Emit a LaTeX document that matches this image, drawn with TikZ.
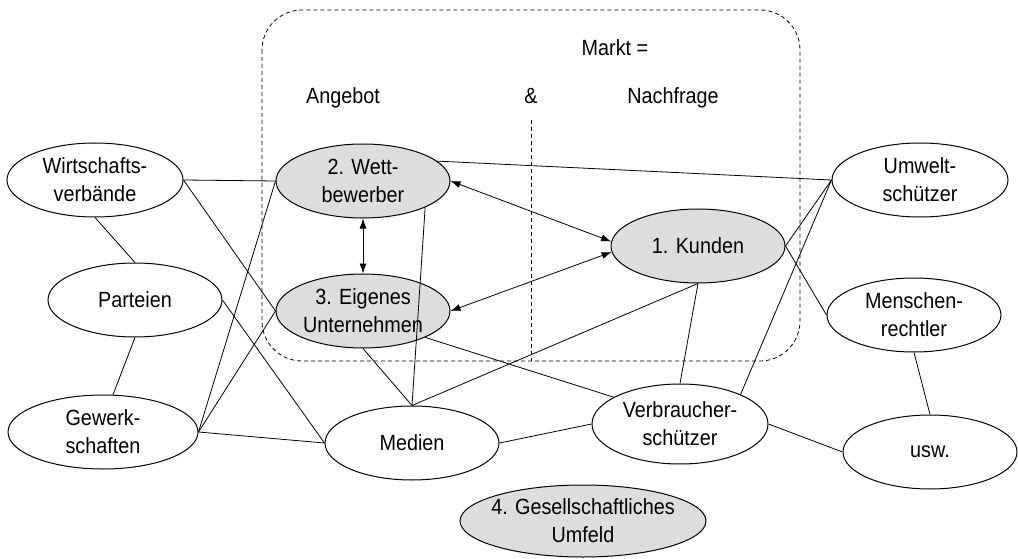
\documentclass[tikz,border=0pt]{standalone}
\usepackage{fontspec}
\setmainfont{Liberation Sans}[FakeStretch=0.9]
\usetikzlibrary{shapes.geometric,arrows.meta}
\definecolor{nodegray}{RGB}{221,221,223}
\begin{document}
\begin{tikzpicture}[x=1pt,y=-1pt,
  el/.style={ellipse,draw,line width=1pt,inner sep=0pt,minimum width=174pt,minimum height=74pt,align=center,font=\fontsize{22}{28}\selectfont},
  hi/.style={el,fill=nodegray},
  link/.style={line width=0.8pt},
  dbl/.style={link,{Latex[length=10pt,width=7pt]}-{Latex[length=10pt,width=7pt]}},
  lbl/.style={font=\fontsize{22}{28}\selectfont,inner sep=0pt,anchor=base},
  dashbox/.style={dash pattern=on 4pt off 3pt,line width=0.8pt}]
\useasboundingbox (0,0) rectangle (1018,559);

% market box
\draw[dashbox,rounded corners=40pt] (262,10) rectangle (800,361);
\coordinate (divtop) at (531,120);
\coordinate (divbot) at (531,361);
\draw[dashbox] (divtop) -- (divbot);
\node[lbl] (markt) at (615,56) {Markt =};
\node[lbl] (angebot) at (343,104) {Angebot};
\node[lbl] (und) at (531,104) {\&};
\node[lbl] (nachfrage) at (673,104) {Nachfrage};

% nodes
\node[el,minimum width=176pt] (wv) at (95,180) {Wirtschafts-\\verbände};
\node[el,minimum width=174pt] (pa) at (135,300) {Parteien};
\node[el,minimum width=190pt] (gw) at (103,432) {Gewerk-\\schaften};
\node[hi] (wb) at (363,181) {2. Wett-\\bewerber};
\node[hi] (eu) at (363,311) {3. Eigenes\\Unternehmen};
\node[hi] (ku) at (698,246) {1. Kunden};
\node[el,minimum width=176pt] (uw) at (920,180) {Umwelt-\\schützer};
\node[el] (mr) at (914,315) {Menschen-\\rechtler};
\node[el,minimum height=80pt,minimum width=176pt] (vs) at (680,424) {Verbraucher-\\schützer};
\node[el] (me) at (412,443) {Medien};
\node[el] (usw) at (930,452) {usw.};
\node[hi,minimum width=246pt,minimum height=72pt] (gu) at (583,521) {\makebox[150pt]{4. Gesellschaftliches}\\Umfeld};

% connectors
\draw[link] (wv.east) -- (wb.west);
\draw[link] (wv.south) -- (pa.north);
\draw[link] (wv.east) -- (eu.west);
\draw[link] (pa.east) -- (me.west);
\draw[link] (pa.south) -- (gw.75);
\draw[link] (gw.east) -- (wb.west);
\draw[link] (gw.east) -- (eu.west);
\draw[link] (gw.east) -- (me.west);
\draw[dbl] (wb.south) -- (eu.north);
\draw[link] (wb.-23) -- (me.north);
\draw[link] (eu.south) -- (me.north);
\draw[dbl] (wb.east) -- (ku.177);
\draw[dbl] (eu.east) -- (ku.184);
\draw[link] (wb.15) -- (uw.west);
\draw[link] (uw.west) -- (ku.east);
\draw[link] (ku.east) -- (mr.west);
\draw[link] (uw.west) -- (vs.26);
\draw[link] (ku.south) -- (vs.north);
\draw[link] (ku.south) -- (me.north);
\draw[link] (eu.-23) -- (vs.158);
\draw[link] (me.east) -- (vs.west);
\draw[link] (vs.east) -- (usw.west);
\draw[link] (mr.south) -- (usw.north);
\end{tikzpicture}
\end{document}
